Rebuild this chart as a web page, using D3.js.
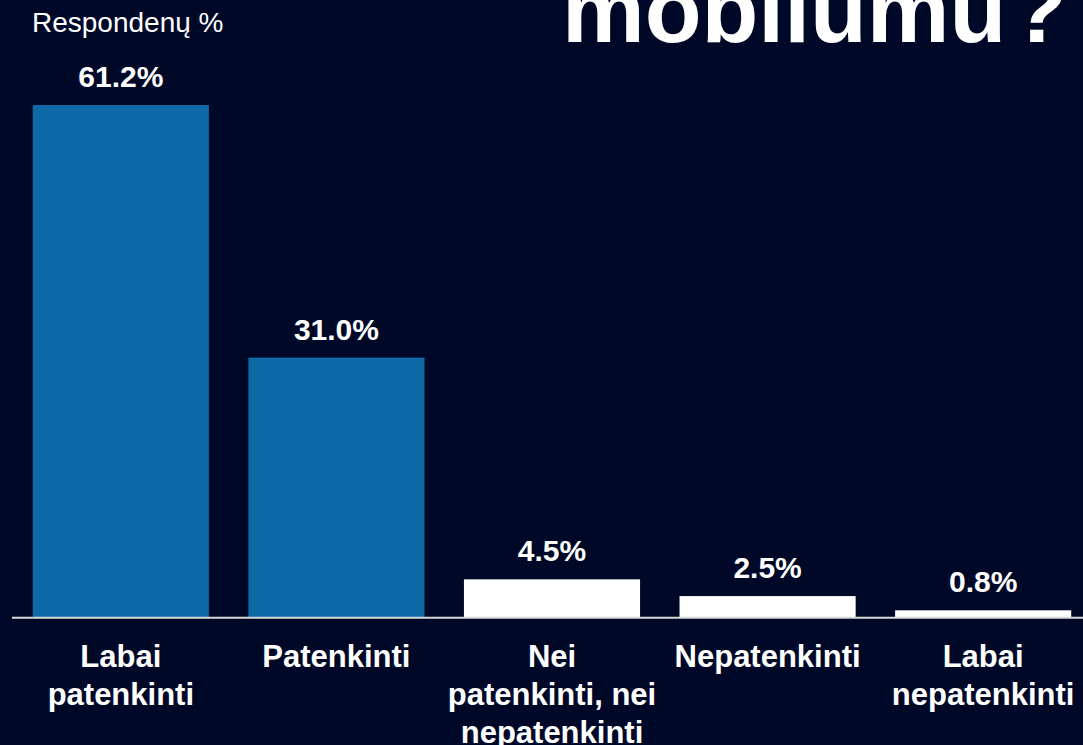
<!DOCTYPE html>
<html>
<head>
  <meta charset="utf-8">
  <title>Respondentų pasitenkinimas</title>
  <script src="https://d3js.org/d3.v7.min.js"></script>
  <style>
    body { margin: 0; background: #000828; overflow: hidden; }
    svg { display: block; font-family: "Liberation Sans", Arial, sans-serif; }
    .value-label { fill: #fff; font-weight: bold; font-size: 30px; text-anchor: middle; }
    .cat-label { fill: #fff; font-weight: bold; font-size: 31px; text-anchor: middle; }
  </style>
</head>
<body>
  <div id="chart"></div>
  <script>
    // data
    const categories = ["Labai\npatenkinti", "Patenkinti", "Nei\npatenkinti, nei\nnepatenkinti", "Nepatenkinti", "Labai\nnepatenkinti"];
    const values = [61.2, 31.0, 4.5, 2.5, 0.8];
    const barColors = ["#0e69a6", "#0e69a6", "#ffffff", "#ffffff", "#ffffff"];
    const titleText = "mobilumu ?";
    const unitText = "Respondenų %";

    const W = 1083, H = 745;
    const baseY = 617;

    const svg = d3.select("#chart").append("svg")
      .attr("width", W)
      .attr("height", H);

    svg.append("rect").attr("width", W).attr("height", H).attr("fill", "#000828");

    const x = d3.scaleBand()
      .domain(categories)
      .range([13, 1091])
      .paddingInner(0.183)
      .paddingOuter(0.0917);

    const y = d3.scaleLinear()
      .domain([0, 61.2])
      .range([baseY, 105]);

    // bars
    svg.selectAll(".bar")
      .data(values)
      .enter().append("rect")
      .attr("class", "bar")
      .attr("x", (d, i) => x(categories[i]))
      .attr("width", x.bandwidth())
      .attr("y", d => y(d))
      .attr("height", d => baseY - y(d))
      .attr("fill", (d, i) => barColors[i]);

    // baseline
    svg.append("line")
      .attr("x1", 12).attr("x2", W)
      .attr("y1", baseY + 0.7).attr("y2", baseY + 0.7)
      .attr("stroke", "#d9d9d9")
      .attr("stroke-width", 2);

    // value labels
    svg.selectAll(".value-label")
      .data(values)
      .enter().append("text")
      .attr("class", "value-label")
      .attr("x", (d, i) => x(categories[i]) + x.bandwidth() / 2)
      .attr("y", d => y(d) - 18)
      .text(d => d.toFixed(1) + "%");

    // category labels (multi-line)
    categories.forEach(c => {
      const t = svg.append("text")
        .attr("class", "cat-label")
        .attr("x", x(c) + x.bandwidth() / 2)
        .attr("y", 667);
      c.split("\n").forEach((line, j) => {
        t.append("tspan")
          .attr("x", x(c) + x.bandwidth() / 2)
          .attr("dy", j === 0 ? 0 : 38)
          .text(line);
      });
    });

    // unit label
    svg.append("text")
      .attr("x", 32).attr("y", 32)
      .attr("fill", "#fff")
      .attr("font-size", "28px")
      .text(unitText);

    // title, partly cut at top
    svg.append("text")
      .attr("x", 562).attr("y", 42)
      .attr("fill", "#fff")
      .attr("font-size", "93px")
      .attr("font-weight", "bold")
      .attr("word-spacing", "-22px")
      .text(titleText);
  </script>
</body>
</html>
